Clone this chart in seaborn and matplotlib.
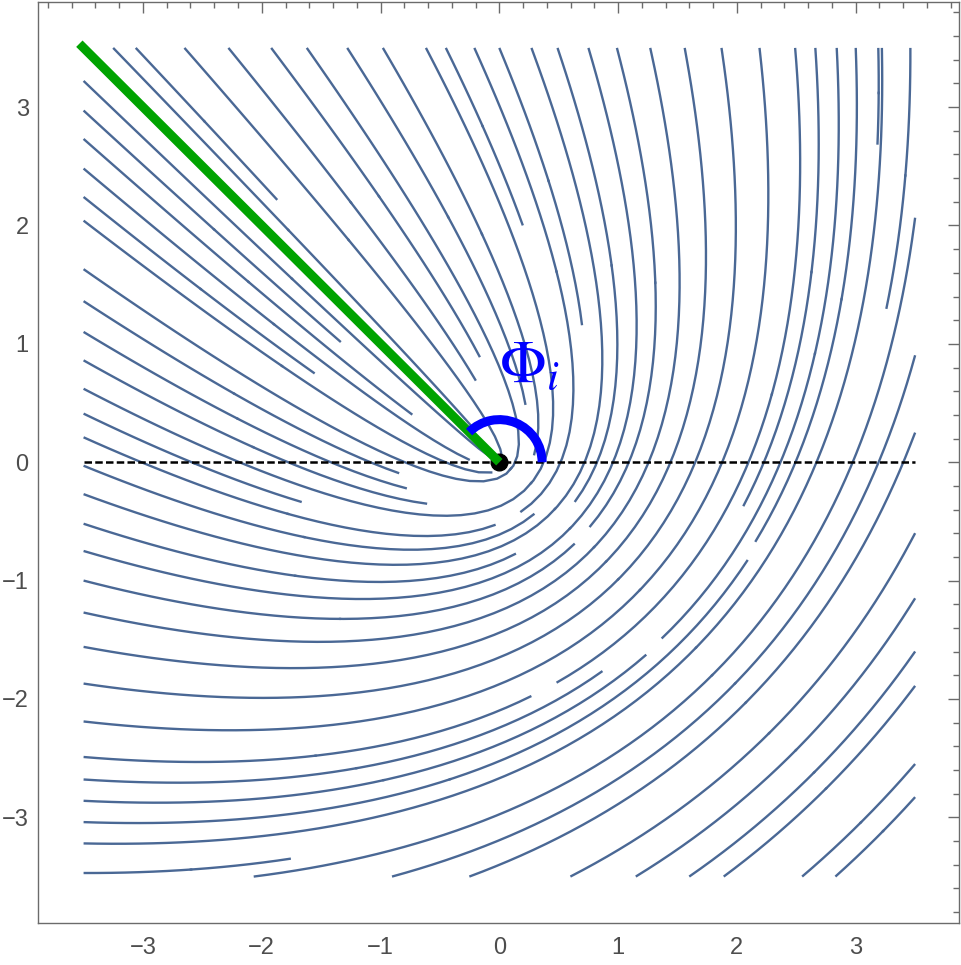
import numpy as np
import seaborn as sns
import matplotlib.pyplot as plt
from matplotlib.patches import Arc
from matplotlib.ticker import MultipleLocator

sns.set_theme(style="white")
plt.rcParams['font.family'] = ['Liberation Sans', 'DejaVu Sans']
plt.rcParams['mathtext.fontset'] = 'stix'

# plot range of the stream field
field_range = [-3.5, 3.5]
# incoming direction of the ray (degrees) and its drawn length
phi_i = 135
ray_length = 5.0
arc_radius = 0.36
label_pos = [0.0, 0.68]
major_ticks = [-3, -2, -1, 0, 1, 2, 3]

# where the streamlines cross the four edges of the field
left_seed_y = [-3.47, -3.22, -3.04, -2.86, -2.68, -2.49, -2.19, -1.87, -1.56,
               -1.27, -1.0, -0.75, -0.52, -0.27, -0.03, 0.21, 0.41, 0.62,
               0.86, 1.10, 1.36, 1.63, 2.04, 2.24, 2.48, 2.73, 2.97, 3.22]
bottom_seed_x = [-2.06, -0.9, -0.25, 0.05, 0.6, 1.15, 1.6, 1.89, 2.1, 2.55,
                 2.83, 3.05, 3.35]
top_seed_x = [-3.25, -3.06, -2.65, -2.28, -1.92, -1.6, -1.28, -0.98, -0.69,
              -0.45, -0.21, 0.0, 0.23, 0.49, 0.74, 0.99, 1.24, 1.55, 1.87,
              2.16, 2.49, 2.66, 2.84, 3.0, 3.19, 3.46]
right_seed_y = [2.05, 0.91, 0.25, -0.06, -0.62, -0.97, -1.17, -1.61, -1.9,
                -2.12, -2.58, -2.86, -3.08, -3.39]

stream_color = "#4a6895"

# grid for the field: streamlines are confocal parabolas, focus at origin,
# axis along the incoming direction phi_i
gx = np.linspace(field_range[0], field_range[1], 201)
gy = np.linspace(field_range[0], field_range[1], 201)
X, Y = np.meshgrid(gx, gy)
a = np.deg2rad(phi_i)
U = X * np.cos(a) + Y * np.sin(a)
V = -X * np.sin(a) + Y * np.cos(a)
R = np.hypot(U, V)
tu = V
tv = R - U
Fx = tu * np.cos(a) - tv * np.sin(a)
Fy = tu * np.sin(a) + tv * np.cos(a)
mag = np.hypot(Fx, Fy)
mag[mag == 0] = 1.0
Fx = Fx / mag
Fy = Fy / mag

lo, hi = field_range[0] + 0.001, field_range[1] - 0.001
seeds = [[xx, lo] for xx in bottom_seed_x]
seeds += [[lo, yy] for yy in left_seed_y]
seeds += [[xx, hi] for xx in top_seed_x]
seeds += [[hi, yy] for yy in right_seed_y]
seeds = np.array(seeds)

fig = plt.figure(figsize=(9.61, 9.65), dpi=100)
ax = fig.add_axes([0.040, 0.0438, 0.958, 0.9544])

ax.streamplot(X, Y, Fx, Fy, density=2.0, color=stream_color, linewidth=1.7,
              arrowstyle='-', integration_direction='both',
              start_points=seeds, maxlength=10)

# dashed reference line
sns.lineplot(x=field_range, y=[0, 0], ax=ax, color='black', linewidth=1.8,
             dashes=False, zorder=4)
ax.lines[-1].set_dashes((3.0, 1.3))

# origin dot
ax.plot([0], [0], 'o', color='black', markersize=12, zorder=5)

# incoming ray
ray_x = [0, ray_length * np.cos(a)]
ray_y = [0, ray_length * np.sin(a)]
sns.lineplot(x=ray_x, y=ray_y, ax=ax, color='#00a300', linewidth=6.5,
             zorder=6, sort=False)
ax.lines[-1].set_solid_capstyle('butt')

# angle arc
arc = Arc((0, 0), 2 * arc_radius, 2 * arc_radius, theta1=0, theta2=phi_i,
          color='#0000ff', linewidth=6.5, zorder=7)
arc.set_capstyle('butt')
ax.add_patch(arc)

ax.text(label_pos[0], label_pos[1], r'$\Phi_i$', color='#0000ff', fontsize=44,
        ha='left', va='baseline', zorder=8)

ax.set_xlim(-3.88, 3.87)
ax.set_ylim(-3.89, 3.89)
ax.set_xticks(major_ticks)
ax.set_yticks(major_ticks)
ax.xaxis.set_minor_locator(MultipleLocator(0.2))
ax.yaxis.set_minor_locator(MultipleLocator(0.2))
ax.tick_params(which='both', direction='in', top=True, right=True,
               color='#6b6b6b', width=1.0)
ax.tick_params(which='major', length=8)
ax.tick_params(which='minor', length=4.5)
ax.tick_params(axis='x', which='major', labelsize=17, labelcolor='#4d4d4d', pad=10)
ax.tick_params(axis='y', which='major', labelsize=17, labelcolor='#4d4d4d', pad=7)
for s in ax.spines.values():
    s.set_color('#6b6b6b')
    s.set_linewidth(1.0)
ax.set_xlabel('')
ax.set_ylabel('')
ax.grid(False)

fig.savefig('out.png', dpi=100)
